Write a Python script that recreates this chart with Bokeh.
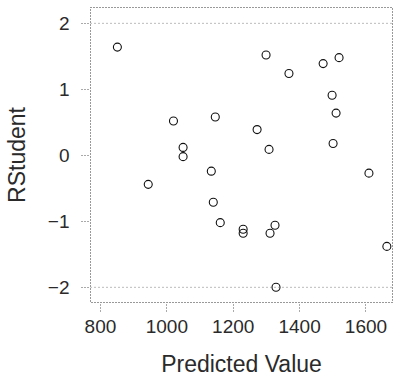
from bokeh.plotting import figure
from bokeh.models import Range1d, Span, FixedTicker
from bokeh.embed import file_html
from bokeh.resources import INLINE

predicted = [851, 944, 1020, 1049, 1049, 1299, 1519, 1471, 1368, 1498, 1510,
             1146, 1272, 1501, 1308, 1134, 1609, 1140, 1161, 1230, 1230,
             1326, 1311, 1663, 1329]
rstudent = [1.64, -0.44, 0.52, 0.12, -0.02, 1.52, 1.48, 1.39, 1.24, 0.91, 0.64,
            0.58, 0.39, 0.18, 0.09, -0.24, -0.27, -0.71, -1.02, -1.12, -1.18,
            -1.06, -1.18, -1.38, -2.00]
x_ticks = [800, 1000, 1200, 1400, 1600]
y_ticks = [-2, -1, 0, 1, 2]
ref_levels = [-2, 2]

p = figure(width=401, height=384, output_backend="svg", toolbar_location=None,
           x_range=Range1d(770, 1680), y_range=Range1d(-2.23, 2.24),
           min_border_left=90, min_border_right=9, min_border_top=7,
           min_border_bottom=82)

p.scatter(predicted, rstudent, marker="circle", size=8, fill_color=None,
          line_color="#111111", line_width=1.1)

for lv in ref_levels:
    p.add_layout(Span(location=lv, dimension="width", line_color="#777777",
                      line_dash="1 3", line_width=1))

p.grid.visible = False
p.outline_line_color = "#333333"
p.outline_line_dash = "1 2"
p.outline_line_width = 1

for ax in (p.xaxis, p.yaxis):
    ax.axis_line_color = None
    ax.major_tick_line_color = "#555555"
    ax.major_tick_line_dash = "1 2"
    ax.major_tick_out = 9
    ax.major_tick_in = 0
    ax.minor_tick_line_color = None
    ax.major_label_text_font = "Liberation Sans"
    ax.major_label_text_font_size = "19px"
    ax.major_label_text_color = "#2a2a2a"
    ax.axis_label_text_font = "Liberation Sans"
    ax.axis_label_text_font_size = "23px"
    ax.axis_label_text_font_style = "normal"
    ax.axis_label_text_color = "#2a2a2a"

p.xaxis.ticker = FixedTicker(ticks=x_ticks)
p.yaxis.ticker = FixedTicker(ticks=y_ticks)
p.xaxis.axis_label = "Predicted Value"
p.yaxis.axis_label = "RStudent"
p.xaxis.major_label_standoff = 8
p.xaxis.axis_label_standoff = 15
p.yaxis.major_label_standoff = 12
p.yaxis.axis_label_standoff = 15
p.yaxis.major_label_orientation = "horizontal"

open("out.html", "w").write(file_html(p, INLINE))
